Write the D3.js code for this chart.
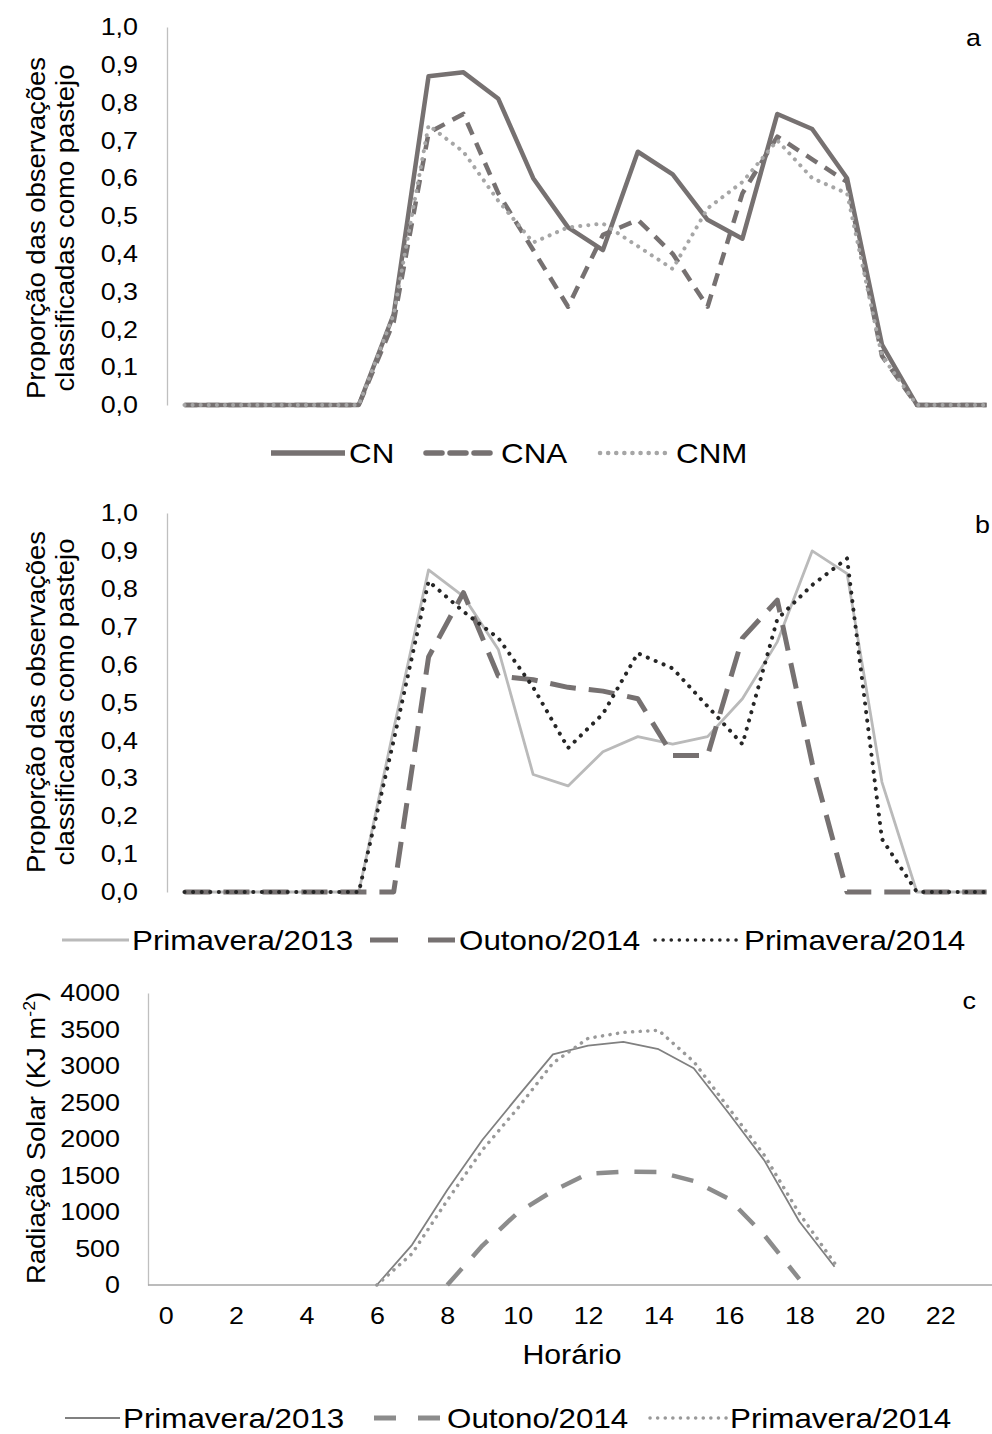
<!DOCTYPE html>
<html>
<head>
<meta charset="utf-8">
<script src="https://cdn.jsdelivr.net/npm/d3@7"></script>
<style>
  html, body { margin: 0; padding: 0; background: #fff; }
  svg { display: block; font-family: "Liberation Sans", Arial, sans-serif; }
</style>
</head>
<body>
<svg id="chart" width="992" height="1434"></svg>
<script>
// ---------- DATA ----------
const hours = [0,1,2,3,4,5,6,7,8,9,10,11,12,13,14,15,16,17,18,19,20,21,22,23];
const hourTicks = [0,2,4,6,8,10,12,14,16,18,20,22];
const propTicks = [0,0.1,0.2,0.3,0.4,0.5,0.6,0.7,0.8,0.9,1.0];
const radTicks = [0,500,1000,1500,2000,2500,3000,3500,4000];

// Panel a – grazing proportion by treatment
const CN  = [0,0,0,0,0,0,0.24,0.87,0.88,0.81,0.60,0.47,0.41,0.67,0.61,0.49,0.44,0.77,0.73,0.60,0.16,0,0,0];
const CNA = [0,0,0,0,0,0,0.22,0.72,0.77,0.56,0.41,0.26,0.45,0.49,0.40,0.26,0.56,0.71,0.65,0.59,0.13,0,0,0];
const CNM = [0,0,0,0,0,0,0.24,0.74,0.67,0.54,0.43,0.47,0.48,0.42,0.36,0.52,0.59,0.70,0.60,0.56,0.13,0,0,0];

// Panel b – grazing proportion by season
const prim2013B = [0,0,0,0,0,0,0.43,0.85,0.78,0.64,0.31,0.28,0.37,0.41,0.39,0.41,0.51,0.66,0.90,0.84,0.29,0,0,0];
const out2014B  = [0,0,0,0,0,0,0,0.62,0.79,0.57,0.56,0.54,0.53,0.51,0.36,0.36,0.67,0.77,0.34,0,0,0,0,0];
const prim2014B = [0,0,0,0,0,0,0.40,0.82,0.74,0.67,0.54,0.38,0.47,0.63,0.59,0.49,0.39,0.72,0.81,0.88,0.14,0,0,0];

// Panel c – solar radiation (KJ m-2)
const prim2013C = [null,null,null,null,null,null,0,550,1300,1990,2580,3160,3280,3330,3230,2970,2350,1710,870,250,null,null,null,null];
const out2014C  = [null,null,null,null,null,null,null,null,0,540,990,1290,1525,1553,1549,1425,1178,685,80,null,null,null,null,null];
const prim2014C = [null,null,null,null,null,null,0,430,1160,1850,2420,3040,3380,3460,3490,3060,2420,1780,980,300,null,null,null,null];

const legendA = ["CN","CNA","CNM"];
const legendB = ["Primavera/2013","Outono/2014","Primavera/2014"];
const titleAB = ["Proporção das observações","classificadas como pastejo"];

// ---------- STYLES ----------
const stA = [
  {stroke:"#767171", width:4.5, dash:null, cap:"butt"},
  {stroke:"#767171", width:4.5, dash:"13 9", cap:"butt"},
  {stroke:"#a6a6a6", width:4, dash:"0.1 8", cap:"round"}
];
const stB = [
  {stroke:"#bababa", width:2.8, dash:null, cap:"butt"},
  {stroke:"#767171", width:5, dash:"26 13", cap:"butt"},
  {stroke:"#262626", width:4, dash:"0.1 8.5", cap:"round"}
];
const stC = [
  {stroke:"#808080", width:1.8, dash:null, cap:"butt"},
  {stroke:"#8c8c8c", width:4.5, dash:"22 16", cap:"butt"},
  {stroke:"#999999", width:3.5, dash:"0.1 7.5", cap:"round"}
];

const svg = d3.select("#chart");
const FONT = "Liberation Sans, Arial, sans-serif";
const SX = 1.12;   // horizontal text stretch seen in the reference

function txt(x, y, s, size, opts = {}) {
  const rot = opts.rotate || 0;
  const sx = opts.sx || SX;
  return svg.append("text")
    .attr("transform", `translate(${x},${y}) rotate(${rot}) scale(${sx},1)`)
    .attr("font-size", size)
    .attr("fill", "#000")
    .attr("text-anchor", opts.anchor || "start")
    .text(s);
}

function styleLine(sel, st) {
  sel.attr("fill", "none")
    .attr("stroke", st.stroke)
    .attr("stroke-width", st.width)
    .attr("stroke-linecap", st.cap)
    .attr("stroke-linejoin", "round");
  if (st.dash) sel.attr("stroke-dasharray", st.dash);
  return sel;
}

function drawPanel(cfg) {
  const x = cfg.x, y = cfg.y;
  const g = svg.append("g");
  const ax = d3.axisLeft(y).tickValues(cfg.yTicks).tickSize(0).tickSizeOuter(0)
    .tickPadding(cfg.tickPad).tickFormat(cfg.fmt);
  const ag = g.append("g").attr("transform", `translate(${cfg.axisX},0)`).call(ax);
  ag.select(".domain").attr("stroke", "#bfbfbf").attr("stroke-width", 1.3);
  ag.selectAll(".tick text").attr("font-size", cfg.tickSize).attr("fill", "#000")
    .attr("font-family", FONT)
    .each(function() {
      const el = d3.select(this);
      const tx = +el.attr("x");
      el.attr("x", tx / SX).attr("transform", `scale(${SX},1)`);
    });
  if (cfg.xAxis) {
    const bx = d3.axisBottom(cfg.xAxis.scale).tickValues(hourTicks).tickSize(0)
      .tickSizeOuter(0).tickPadding(22);
    const bg = g.append("g").attr("transform", `translate(0,${y(0)})`).call(bx);
    bg.select(".domain").attr("stroke", "#a6a6a6").attr("stroke-width", 1.3)
      .attr("d", `M${cfg.axisX},0H${cfg.xAxis.end}`);
    bg.selectAll(".tick text").attr("font-size", cfg.tickSize).attr("fill", "#000")
      .attr("font-family", FONT)
      .attr("transform", `scale(${SX},1)`);
  }
  cfg.series.forEach((s, i) => {
    const line = d3.line()
      .defined(v => v != null)
      .x((v, k) => x(hours[k]))
      .y(v => y(v));
    styleLine(g.append("path").datum(s), cfg.styles[i]).attr("d", line);
  });
}

// ---------- PANEL A ----------
const xAB = d3.scalePoint().domain(hours).range([167, 1004]).padding(0.5);
const yA = d3.scaleLinear().domain([0, 1]).range([405, 27]);
const fmtComma = d => d3.format(".1f")(d).replace(".", ",");
drawPanel({x: xAB, y: yA, axisX: 167, yTicks: propTicks, tickPad: 29, fmt: fmtComma,
  tickSize: 24, series: [CN, CNA, CNM], styles: stA});
txt(981, 46, "a", 24, {anchor: "end"});

// ---------- PANEL B ----------
const yB = d3.scaleLinear().domain([0, 1]).range([892, 513]);
drawPanel({x: xAB, y: yB, axisX: 167, yTicks: propTicks, tickPad: 29, fmt: fmtComma,
  tickSize: 24, series: [prim2013B, out2014B, prim2014B], styles: stB});
txt(975, 533, "b", 24);

// ---------- PANEL C ----------
const xC = d3.scalePoint().domain(hours).range([148, 993]).padding(0.5);
const yC = d3.scaleLinear().domain([0, 4000]).range([1285, 993]);
drawPanel({x: xC, y: yC, axisX: 148, yTicks: radTicks, tickPad: 28, fmt: d3.format("d"),
  tickSize: 24, series: [prim2013C, out2014C, prim2014C], styles: stC,
  xAxis: {scale: xC, end: 993}});
txt(976, 1009, "c", 24, {anchor: "end"});
txt(572, 1364, "Horário", 27, {anchor: "middle"});

// ---------- Y TITLES ----------
function yTitle(cy, lines, x1, x2, size, sx) {
  txt(x1, cy, lines[0], size, {rotate: -90, anchor: "middle", sx: sx});
  if (lines[1]) txt(x2, cy, lines[1], size, {rotate: -90, anchor: "middle", sx: sx});
}
yTitle(228, titleAB, 45, 74, 25, 1.1);
yTitle(702, titleAB, 45, 74, 25, 1.1);

{
  const t = svg.append("text")
    .attr("transform", `translate(45,1138) rotate(-90) scale(1.1,1)`)
    .attr("font-size", 25).attr("text-anchor", "middle").attr("fill", "#000");
  t.append("tspan").text("Radiação Solar (KJ m");
  t.append("tspan").attr("font-size", 16).attr("dy", -10).text("-2");
  t.append("tspan").attr("dy", 10).text(")");
}

// ---------- LEGENDS ----------
function legend(items, styles, y, pos, size) {
  items.forEach((name, i) => {
    const p = pos[i];
    styleLine(svg.append("path"), styles[i]).attr("d", `M${p[0]},${y}H${p[1]}`);
    txt(p[2], y + size * 0.36, name, size);
  });
}
legend(legendA, [
  {stroke:"#767171", width:5.5, dash:null, cap:"butt"},
  {stroke:"#767171", width:5.5, dash:"16 8", cap:"round"},
  {stroke:"#a6a6a6", width:4.5, dash:"0.1 8", cap:"round"}
], 453, [[271,345,349],[426,492,501],[600,668,676]], 28);
legend(legendB, [
  {stroke:"#bababa", width:3, dash:null, cap:"butt"},
  {stroke:"#767171", width:5, dash:"28 30", cap:"butt"},
  {stroke:"#262626", width:3.5, dash:"0.1 8", cap:"round"}
], 940, [[62,129,132],[370,455,459],[655,740,744]], 28);
legend(legendB, [
  {stroke:"#808080", width:2, dash:null, cap:"butt"},
  {stroke:"#8c8c8c", width:5, dash:"22 22", cap:"butt"},
  {stroke:"#999999", width:3.5, dash:"0.1 7.5", cap:"round"}
], 1418, [[65,120,123],[374,440,447],[650,727,730]], 28);
</script>
</body>
</html>
